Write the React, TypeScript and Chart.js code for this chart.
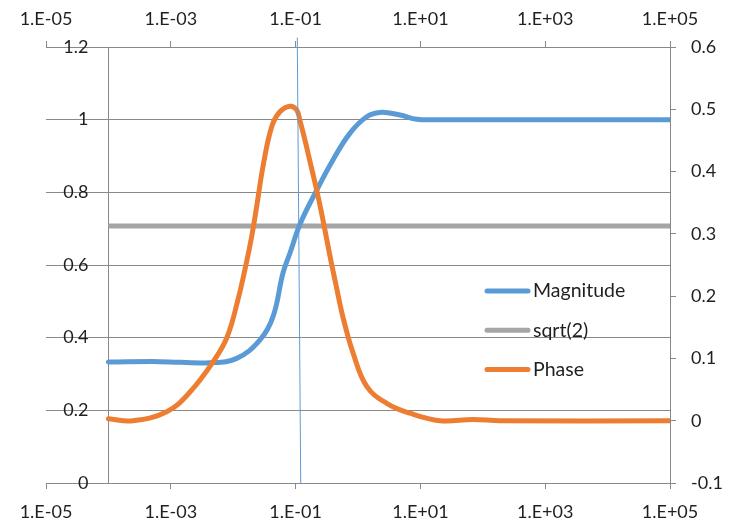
import React, { useEffect, useRef } from 'react';
import { Chart, registerables } from 'chart.js';

Chart.register(...registerables);

// ---- data ----
const magFreq = [1e-4, 6.7e-4, 4.25e-3, 1.14e-2, 2.69e-2, 4.35e-2, 6.28e-2, 8.13e-2, 0.118, 0.218, 0.397, 0.745, 1.38, 2.25, 4.71, 8.73, 20.6, 100, 1e5];
const magnitude = [0.333, 0.334, 0.331, 0.343, 0.394, 0.458, 0.578, 0.633, 0.713, 0.806, 0.889, 0.963, 1.008, 1.02, 1.013, 1.001, 1.0, 1.0, 1.0];

const sqrtFreq = [1e-4, 1e5];
const sqrtValue = [0.7071, 0.7071];

const phaseFreq = [1e-4, 2.48e-4, 8.6e-4, 2.03e-3, 4.8e-3, 7.96e-3, 1.19e-2, 1.6e-2, 1.98e-2, 2.38e-2, 3.0e-2, 4.14e-2, 5.6e-2, 8.1e-2, 0.104, 0.118, 0.1417, 0.17, 0.218, 0.275, 0.356, 0.444, 0.575, 0.832, 1.38, 2.88, 6.8, 20.6, 69.7, 189, 1e5];
const phase = [0.003, 0.0, 0.0145, 0.046, 0.095, 0.134, 0.194, 0.25, 0.296, 0.344, 0.408, 0.472, 0.496, 0.505, 0.499, 0.481, 0.45, 0.416, 0.37, 0.322, 0.264, 0.218, 0.166, 0.109, 0.055, 0.028, 0.012, 0.0, 0.002, 0.0, 0.0];

const markerFreq = [0.1064, 0.1208];
const markerValue = [1.226, 0];

const xTickValues = [1e-5, 1e-3, 1e-1, 1e1, 1e3, 1e5];
const xTickLabels = ['1.E-05', '1.E-03', '1.E-01', '1.E+01', '1.E+03', '1.E+05'];

const seriesNames = ['Magnitude', 'sqrt(2)', 'Phase'];

// ---- styles ----
const FONT_FAMILY = 'Lato, "Open Sans", sans-serif';
const TEXT = '#1f1f1f';
const GRID = '#898989';
const BLUE = '#5b9bd5';
const GRAY = '#a5a5a5';
const ORANGE = '#ed7d31';

const pts = (xs: number[], ys: number[]) => xs.map((x, i) => ({ x, y: ys[i] }));
const fmt = (v: number) => String(Math.round(v * 10) / 10 || 0);

export default function App() {
  const ref = useRef<HTMLCanvasElement>(null);

  useEffect(() => {
    const canvas = ref.current;
    if (!canvas) return;

    const legendPlugin = {
      id: 'customLegend',
      afterDatasetsDraw(chart: any) {
        const ctx = chart.ctx;
        ctx.save();
        seriesNames.forEach((name, i) => {
          const ds = chart.data.datasets.find((d: any) => d.label === name);
          const y = 291 + i * 39.3;
          ctx.strokeStyle = ds.borderColor;
          ctx.lineWidth = 5;
          ctx.lineCap = 'round';
          ctx.beginPath();
          ctx.moveTo(487, y);
          ctx.lineTo(528, y);
          ctx.stroke();
          ctx.fillStyle = TEXT;
          ctx.font = `19.5px ${FONT_FAMILY}`;
          ctx.textBaseline = 'middle';
          ctx.textAlign = 'left';
          ctx.fillText(name, 533, y);
        });
        ctx.restore();
      },
    };

    const font = { family: FONT_FAMILY, size: 18 };
    const xAxis = (position: 'top' | 'bottom', height: number, padding: number) => ({
      type: 'logarithmic' as const,
      axis: 'x' as const,
      position,
      min: 1e-5,
      max: 1e5,
      afterBuildTicks: (s: any) => {
        s.ticks = xTickValues.map((v) => ({ value: v }));
      },
      afterFit: (s: any) => {
        s.height = height;
      },
      ticks: {
        callback: (_v: any, i: number) => xTickLabels[i],
        font,
        color: TEXT,
        padding,
        maxRotation: 0,
        autoSkip: false,
      },
      grid: { drawOnChartArea: false, drawTicks: true, tickLength: 6, color: GRID },
      border: { color: GRID },
    });

    const lineStyle = { pointRadius: 0, tension: 0.4, borderCapStyle: 'round' as const };

    const chart = new Chart(canvas, {
      type: 'line',
      data: {
        datasets: [
          {
            label: 'marker',
            data: pts(markerFreq, markerValue),
            borderColor: BLUE,
            borderWidth: 1,
            pointRadius: 0,
            xAxisID: 'x',
            yAxisID: 'y',
            clip: false as any,
            order: 0,
          },
          {
            label: 'Phase',
            data: pts(phaseFreq, phase),
            borderColor: ORANGE,
            borderWidth: 5,
            ...lineStyle,
            xAxisID: 'x',
            yAxisID: 'y2',
            order: 1,
          },
          {
            label: 'Magnitude',
            data: pts(magFreq, magnitude),
            borderColor: BLUE,
            borderWidth: 5,
            ...lineStyle,
            xAxisID: 'x',
            yAxisID: 'y',
            order: 2,
          },
          {
            label: 'sqrt(2)',
            data: pts(sqrtFreq, sqrtValue),
            borderColor: GRAY,
            borderWidth: 5,
            pointRadius: 0,
            xAxisID: 'x',
            yAxisID: 'y',
            order: 3,
          },
        ],
      },
      options: {
        animation: false,
        responsive: false,
        layout: { padding: { left: 46, top: 0, right: 0, bottom: 0 } },
        plugins: { legend: { display: false }, tooltip: { enabled: false } },
        scales: {
          x: xAxis('bottom', 40, 12),
          xTop: xAxis('top', 47, 11),
          y: {
            type: 'linear',
            axis: 'y',
            position: { x: 4.77e-5 } as any,
            min: 0,
            max: 1.2,
            ticks: { stepSize: 0.2, font, color: TEXT, callback: (v: any) => fmt(Number(v)) },
            grid: { color: GRID, drawTicks: false },
            border: { display: false },
          },
          yAxisLine: {
            type: 'linear',
            axis: 'y',
            position: { x: 1e-4 } as any,
            min: 0,
            max: 1.2,
            ticks: { display: false },
            grid: { display: false },
            border: { display: true, color: GRID },
          },
          y2: {
            type: 'linear',
            axis: 'y',
            position: 'right',
            min: -0.1,
            max: 0.6,
            afterFit: (s: any) => {
              s.width = 59;
            },
            ticks: { stepSize: 0.1, font, color: TEXT, padding: 15, callback: (v: any) => fmt(Number(v)) },
            grid: { drawOnChartArea: false, tickLength: 6, color: GRID },
            border: { color: GRID },
          },
        },
      } as any,
      plugins: [legendPlugin],
    });

    return () => chart.destroy();
  }, []);

  return (
    <div style={{ position: 'fixed', left: 0, top: 0, width: 729, height: 523, background: '#fff' }}>
      <canvas ref={ref} width={729} height={523} style={{ display: 'block' }} />
    </div>
  );
}
